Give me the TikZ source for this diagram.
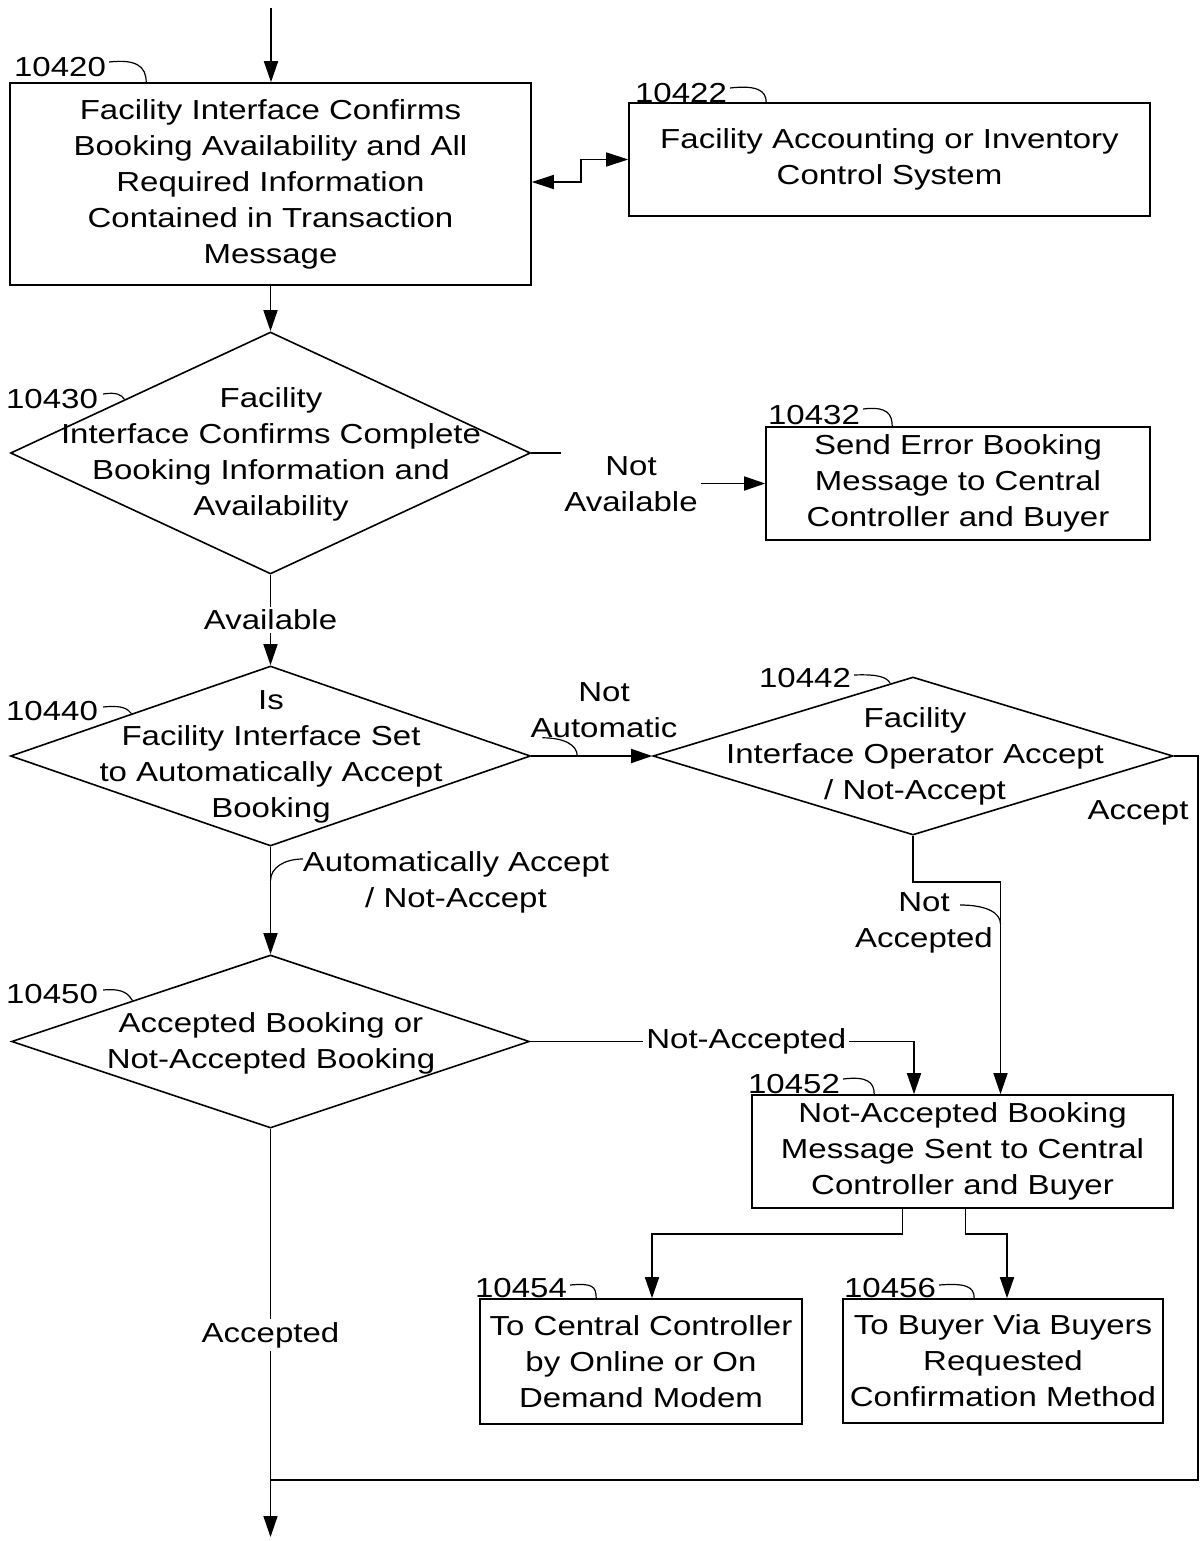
\documentclass[tikz,border=0pt]{standalone}
\usepackage{fontspec}
\setmainfont{Liberation Sans}[FakeStretch=1.2]
\usetikzlibrary{arrows.meta,shapes.geometric,calc}
\begin{document}
\begin{tikzpicture}[x=1pt,y=-1pt,
  base/.style={font=\fontsize{27.5}{36}\selectfont, align=center},
  box/.style={base, draw, line width=1.6pt, inner sep=0pt},
  dia/.style={draw, diamond, line width=1.6pt, inner sep=0pt},
  txt/.style={base, inner sep=0pt},
  refnum/.style={base, inner sep=0pt},
  lbl/.style={base, fill=white, inner sep=3pt},
  conn/.style={line width=1.6pt},
  arr/.style={conn, -{Triangle[length=21pt,width=14pt]}},
  lead/.style={line width=1.2pt}]
\useasboundingbox (0,0) rectangle (1201,1541);

% process boxes
\node[box, minimum width=521, minimum height=202] (b20) at (270.5,184)
  {Facility Interface Confirms\\Booking Availability and All\\Required Information\\Contained in Transaction\\Message};
\node[box, minimum width=521, minimum height=113] (b22) at (889.5,159.5)
  {Facility Accounting or Inventory\\Control System};
\node[box, minimum width=384, minimum height=113] (b32) at (958,483.5)
  {Send Error Booking\\Message to Central\\Controller and Buyer};
\node[box, minimum width=421, minimum height=113] (b52) at (962.5,1151.5)
  {Not-Accepted Booking\\Message Sent to Central\\Controller and Buyer};
\node[box, minimum width=322, minimum height=125] (b54) at (641,1361.5)
  {To Central Controller\\by Online or On\\Demand Modem};
\node[box, minimum width=320, minimum height=124] (b56) at (1003,1361)
  {To Buyer Via Buyers\\Requested\\Confirmation Method};

% decisions
\node[dia, minimum width=520, minimum height=242] (d30) at (270.5,453) {};
\node[txt] (t30) at (271,454) {Facility\\Interface Confirms Complete\\Booking Information and\\Availability};
\node[dia, minimum width=520, minimum height=180] (d40) at (270.5,756) {};
\node[txt] (t40) at (271,757) {Is\\Facility Interface Set\\to Automatically Accept\\Booking};
\node[dia, minimum width=520, minimum height=158] (d42) at (913,756) {};
\node[txt] (t42) at (915,756.5) {Facility\\Interface Operator Accept\\/ Not-Accept};
\node[dia, minimum width=518, minimum height=173] (d50) at (270.5,1041.5) {};
\node[txt] (t50) at (271,1043) {Accepted Booking or\\Not-Accepted Booking};

% reference numerals
\node[refnum] (n20) at (60,67) {10420};
\node[refnum] (n22) at (681,93) {10422};
\node[refnum] (n30) at (52,399) {10430};
\node[refnum] (n32) at (814,415) {10432};
\node[refnum] (n40) at (52,711) {10440};
\node[refnum] (n42) at (805,678) {10442};
\node[refnum] (n50) at (52,994) {10450};
\node[refnum] (n52) at (794,1084) {10452};
\node[refnum] (n54) at (521,1288) {10454};
\node[refnum] (n56) at (890,1288) {10456};

\draw[lead] ($(n20.east)+(3,-5)$) .. controls +(27,-3) and +(0,-16) .. ($(b20.north west)+(137,0)$);
\draw[lead] ($(n22.east)+(3,-5)$) .. controls +(26,-3) and +(0,-12) .. ($(b22.north west)+(138,0)$);
\draw[lead] ($(n30.east)+(5,-5)$) .. controls +(13,-2) and +(-3,-5) .. ($(d30.west)!0.44!(d30.north)$);
\draw[lead] ($(n32.east)+(3,-6)$) .. controls +(24,-3) and +(0,-12) .. ($(b32.north west)+(127,0)$);
\draw[lead] ($(n40.east)+(5,-4)$) .. controls +(19,-2) and +(-4,-5) .. ($(d40.west)!0.467!(d40.north)$);
\draw[lead] ($(n42.east)+(3,-3)$) .. controls +(24,-1) and +(-3,-6) .. ($(d42.west)!0.912!(d42.north)$);
\draw[lead] ($(n50.east)+(5,-4)$) .. controls +(21,-2) and +(-4,-6) .. ($(d50.west)!0.469!(d50.north)$);
\draw[lead] ($(n52.east)+(3,-5)$) .. controls +(24,-3) and +(0,-12) .. ($(b52.north west)+(123,0)$);
\draw[lead] ($(n54.east)+(3,-3)$) .. controls +(22,-2) and +(0,-12) .. ($(b54.north west)+(117,0)$);
\draw[lead] ($(n56.east)+(3,-3)$) .. controls +(26,-2) and +(0,-12) .. ($(b56.north west)+(132,0)$);

% branch labels
\node[txt] (lNA) at (631,484) {Not\\Available};
\node[txt] (lNAuto) at (604,710) {Not\\Automatic};
\node[txt] (lAcc) at (1138,813) {Accept};
\node[txt] (lNAcc) at (924,923) {Not\\Accepted};
\node[txt] (lAuto) at (456,882) {Automatically Accept\\/ Not-Accept};

% connectors
\coordinate (top) at (271,8);
\coordinate (join) at (270.5,1480);
\coordinate (bottom) at (270.5,1537);
\coordinate (b52r) at ([xshift=38pt]b52.north);
\coordinate (b52l) at ([xshift=-48.5pt]b52.north);

\draw[arr] (top) -- (top |- b20.north);
\draw[conn, {Triangle[length=22pt,width=14pt]}-{Triangle[length=22pt,width=14pt]}]
  ([yshift=2pt]b20.east) -- ++(49,0) |- (b22.west);
\draw[arr] (b20.south) -- (d30.north);
\draw[conn] (d30.east) -- ++(30,0);
\draw[arr] ($(lNA.east |- b32.west)+(3,0)$) -- (b32.west);
\draw[arr] (d30.south) -- node[lbl]{Available} (d40.north);
\draw[arr] (d40.east) -- (d42.west);
\draw[conn] (d42.east) -- ++(24,0) |- (join);
\draw[arr] (d42.south) -- ++(0,46) -| (b52r);
\draw[arr] (d40.south) -- (d50.north);
\draw[arr] (d50.east) -- node[lbl,pos=0.563]{Not-Accepted} (d50.east -| b52l) -- (b52l);
\draw[arr] ([xshift=-60pt]b52.south) -- ++(0,25) -| ([xshift=11pt]b54.north);
\draw[arr] ([xshift=3pt]b52.south) -- ++(0,25) -| ([xshift=4pt]b56.north);
\draw[arr] (d50.south) -- node[lbl,pos=0.505]{Accepted} (bottom);

% label leaders
\draw[lead] ($(lNAuto.south west)+(12,0)$) .. controls +(22,0) and +(0,-11) .. ($(d40.east)!0.38!(d42.west)$);
\draw[lead] ($(lNAcc.center)+(36,-18)$) .. controls +(27,0) and +(0,-11) .. ($(lNAcc.center -| b52r)+(0,1)$);
\draw[lead] ($(lAuto.center)+(-153,-23)$) .. controls +(-19,0) and +(0,-13) .. ($(d40.south)+(0,34)$);
\end{tikzpicture}
\end{document}
